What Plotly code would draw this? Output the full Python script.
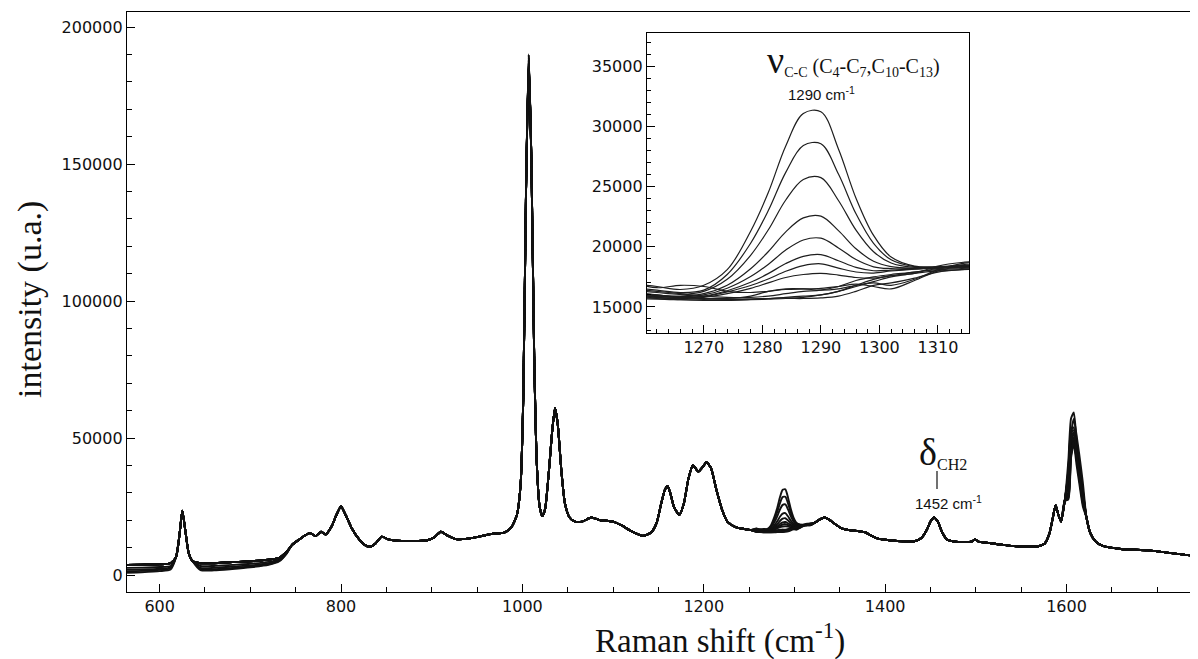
import plotly.graph_objects as go

# ---------------- data ----------------
base_x = [564, 580, 600, 612, 618, 622, 625, 628, 632, 636, 645, 660, 680, 700, 720, 732, 740, 746, 754, 762,
          766, 772, 778, 783, 790, 795, 800, 805, 812, 820, 827, 832, 838, 845, 852, 862, 880, 895, 903, 910,
          917, 927, 940, 955, 966, 980, 988, 994, 998, 1001, 1004, 1007, 1010, 1013, 1016, 1019, 1022, 1025,
          1029, 1033, 1036, 1039, 1043, 1047, 1052, 1058, 1066, 1076, 1086, 1100, 1110, 1120, 1133, 1142, 1148,
          1153, 1157, 1160, 1163, 1167, 1173, 1178, 1183, 1188, 1194, 1199, 1203, 1208, 1214, 1220, 1226, 1235,
          1245, 1252, 1322, 1328, 1333, 1338, 1345, 1352, 1360, 1370, 1378, 1385, 1392, 1405, 1420, 1432, 1440,
          1446, 1450, 1454, 1458, 1463, 1468, 1475, 1488, 1496, 1499, 1503, 1515, 1530, 1545, 1560, 1570, 1576,
          1581, 1585, 1588, 1591, 1594, 1598, 1602, 1605, 1608, 1611, 1614, 1618, 1622, 1626, 1632, 1640, 1660,
          1690, 1720, 1745]
base_y = [3700, 3800, 3900, 4300, 6500, 15000, 23500, 17000, 8000, 5200, 4300, 4300, 4700, 5000, 5600, 6300,
          8500, 11000, 13000, 14800, 15300, 14200, 15800, 14800, 18000, 22000, 25000, 22000, 17000, 13000, 10800,
          10300, 11500, 14000, 13000, 12500, 12400, 12700, 13800, 15800, 14500, 13100, 13300, 14200, 15000, 15500,
          17500, 22000, 33000, 65000, 140000, 189000, 150000, 80000, 40000, 25000, 21500, 24000, 37000, 53000,
          61000, 55000, 38000, 26000, 21000, 19500, 19500, 21000, 20000, 19500, 18000, 16000, 14300, 15500, 19000,
          26000, 31000, 32500, 30000, 25000, 22000, 26000, 35000, 40000, 37800, 39500, 41200, 39000, 31000, 24000,
          19500, 17500, 16800, 16400, 19000, 20300, 21000, 20300, 18500, 17000, 16400, 16000, 15600, 14300, 13300,
          12700, 12300, 12300, 13500, 16500, 19500, 21000, 19500, 15500, 13000, 12300, 12000, 12300, 13000, 12200,
          11700, 11000, 10500, 10400, 10600, 11500, 15000, 21000, 25500, 22000, 19500, 27000, 40000, 50000, 53000,
          45000, 37000, 29000, 21000, 15500, 12300, 10600, 9500, 9000, 7800, 6800]

# low-wavenumber region: four spectra lie below the others
low_x = [564, 580, 600, 612, 645, 660, 680, 700, 720, 732, 740]
low_y = {
    10: [2600, 2700, 2900, 3300, 3300, 3300, 3700, 4100, 4800, 5700, 8200],
    11: [1900, 2000, 2300, 2800, 2600, 2600, 3100, 3500, 4300, 5500, 8000],
    12: [1300, 1500, 1900, 2500, 2200, 2100, 2600, 3100, 3900, 5200, 7900],
    13: [800, 1000, 1400, 2000, 1800, 1700, 2200, 2800, 3700, 5000, 7800],
}

# top of the 1007 cm-1 band for each spectrum
peak1007_x = 1007
peak1007_y = [190000, 188000, 189000, 187000, 186000, 190000, 188500, 187500, 189500, 186500, 188000, 187000,
              189000, 188000]

# 1290 cm-1 region (also shown in the inset)
band_x = [1258, 1262, 1266, 1270, 1274, 1278, 1281, 1284, 1287, 1290, 1293, 1296, 1299, 1302, 1306, 1310, 1314, 1318]
band_y = [
    [16900, 16700, 16450, 16800, 18100, 21300, 24500, 28400, 31100, 31250, 28150, 24050, 20950, 19150, 18400, 18350, 18450, 18550],
    [16600, 16400, 16200, 16400, 17700, 20300, 23000, 26200, 28430, 28580, 26060, 22750, 20290, 18920, 18350, 18300, 18400, 18500],
    [16400, 16200, 16050, 16300, 17300, 19300, 21400, 23900, 25610, 25760, 23860, 21390, 19590, 18660, 18290, 18300, 18400, 18500],
    [16200, 16000, 15900, 16100, 16800, 18180, 19590, 21250, 22410, 22560, 21350, 19840, 18800, 18360, 18220, 18250, 18350, 18450],
    [16100, 15950, 15850, 16000, 16560, 17530, 18540, 19730, 20570, 20720, 19910, 18940, 18340, 18190, 18190, 18250, 18300, 18400],
    [16000, 15850, 15800, 15900, 16350, 17050, 17770, 18610, 19210, 19360, 18840, 18290, 18010, 18070, 18160, 18250, 18300, 18400],
    [15900, 15800, 15750, 15850, 16250, 16780, 17330, 17970, 18440, 18590, 18230, 17910, 17820, 17990, 18150, 18250, 18300, 18350],
    [15900, 15750, 15700, 15800, 16100, 16550, 17000, 17450, 17700, 17800, 17650, 17450, 17400, 17600, 17900, 18100, 18200, 18300],
    [17000, 16600, 16800, 16700, 16300, 16200, 16300, 16450, 16500, 16550, 16700, 16900, 16700, 16500, 17200, 18000, 18400, 18600],
    [16500, 16300, 16100, 15900, 15800, 15800, 15900, 16100, 16300, 16400, 16700, 17200, 17500, 17700, 17900, 18200, 18500, 18700],
    [16000, 15900, 15800, 15700, 15650, 15650, 15700, 15800, 15900, 16000, 16300, 16800, 17300, 17600, 17800, 18400, 18700, 18800],
    [15800, 15700, 15600, 15550, 15550, 15600, 15650, 15700, 15700, 15750, 15900, 16300, 16800, 17000, 17400, 17900, 18100, 18200],
    [16200, 16000, 15800, 15700, 15700, 15900, 16300, 16500, 16500, 16400, 16500, 16800, 17000, 16800, 17300, 18100, 18600, 18800],
    [15700, 15650, 15600, 15600, 15600, 15650, 15700, 15750, 15800, 16000, 16300, 16700, 17100, 17500, 17800, 18000, 18100, 18200],
]

# 1607 cm-1 band for each spectrum
p1600_x = [1602, 1605, 1608, 1611, 1614, 1618]
p1600_y = [
    [41650, 57100, 59300, 49800, 41500, 30600],
    [30200, 46800, 52000, 46800, 40500, 31100],
    [38500, 52800, 53900, 46100, 38400, 28400],
    [29000, 45000, 50000, 45000, 39000, 30000],
    [33600, 46100, 47000, 40400, 33600, 25000],
    [33100, 51300, 57000, 51200, 44200, 33800],
    [37100, 50900, 51900, 44500, 37000, 27400],
    [28400, 44100, 49000, 44100, 38300, 29500],
    [35700, 49000, 50000, 42800, 35700, 26500],
    [27600, 42800, 47500, 42800, 37200, 28700],
    [37800, 51800, 52900, 45300, 37700, 27900],
    [35400, 48500, 49500, 42400, 35300, 26200],
    [28100, 43700, 48500, 43700, 37900, 29200],
    [36800, 50400, 51500, 44100, 36700, 27200],
]

main_xticks = [600, 800, 1000, 1200, 1400, 1600]
main_yticks = [0, 50000, 100000, 150000, 200000]
inset_xticks = [1270, 1280, 1290, 1300, 1310]
inset_yticks = [15000, 20000, 25000, 30000, 35000]

# ---------------- figure ----------------
fig = go.Figure()

n_series = len(band_y)
for i in range(n_series):
    pts = dict(zip(base_x, base_y))
    if i in low_y:
        pts.update(zip(low_x, low_y[i]))
    pts[peak1007_x] = peak1007_y[i]
    pts.update(zip(band_x, band_y[i]))
    pts.update(zip(p1600_x, p1600_y[i]))
    xs = sorted(pts)
    ys = [pts[k] for k in xs]
    fig.add_trace(go.Scatter(x=xs, y=ys, mode="lines", xaxis="x", yaxis="y",
                             line=dict(color="#111111", width=1.9, shape="spline", smoothing=0.6),
                             showlegend=False, hoverinfo="skip"))

for i in range(n_series):
    fig.add_trace(go.Scatter(x=band_x, y=band_y[i], mode="lines", xaxis="x2", yaxis="y2",
                             line=dict(color="#1e1e1e", width=1.2, shape="spline", smoothing=1.0),
                             showlegend=False, hoverinfo="skip"))

tickfont = dict(family="DejaVu Sans, Arial, sans-serif", size=16, color="#111111")
axis_common = dict(showline=True, mirror=True, linecolor="black", linewidth=1.3, ticks="inside",
                   tickcolor="black", tickwidth=1.2, showgrid=False, zeroline=False, tickfont=tickfont)

# the page puts the figure 8 px from the top-left corner; positions below are reference pixels
OFF = 8
W, H = 1190, 651
L, R, T, B = 119, 0, 4, 67
pw, ph = W - L - R, H - T - B


def px(xp):
    return (xp - OFF - L) / pw


def py(yp):
    return (H - B - (yp - OFF)) / ph


fig.update_layout(
    width=W, height=H,
    margin=dict(l=L, r=R, t=T, b=B),
    paper_bgcolor="white", plot_bgcolor="white",
    xaxis=dict(domain=[0, 1], anchor="y", range=[564, 1745], tickvals=main_xticks,
               ticktext=[str(v) for v in main_xticks], ticklen=8,
               minor=dict(dtick=50, tick0=0, ticks="inside", ticklen=5, tickcolor="black", tickwidth=1),
               **axis_common),
    yaxis=dict(domain=[0, 1], anchor="x", range=[-6200, 205500], tickvals=main_yticks,
               ticktext=[str(v) for v in main_yticks], ticklen=8,
               minor=dict(dtick=10000, tick0=0, ticks="inside", ticklen=5, tickcolor="black", tickwidth=1),
               **axis_common),
    xaxis2=dict(domain=[px(647), px(969)], anchor="y2", range=[1260.3, 1315.3], tickvals=inset_xticks,
                ticktext=[str(v) for v in inset_xticks], ticklen=8,
                minor=dict(dtick=2, tick0=0, ticks="inside", ticklen=4, tickcolor="black", tickwidth=1),
                **axis_common),
    yaxis2=dict(domain=[py(333), py(33)], anchor="x2", range=[12830, 37800], tickvals=inset_yticks,
                ticktext=[str(v) for v in inset_yticks], ticklen=8,
                minor=dict(dtick=1000, tick0=0, ticks="inside", ticklen=4, tickcolor="black", tickwidth=1),
                **axis_common),
)

serif = "Liberation Serif, Times New Roman, serif"
sans = "Liberation Sans, Arial, sans-serif"
ann = [
    dict(text="Raman shift (cm<sup>-1</sup>)", x=px(720), y=py(638), font=dict(family=serif, size=33, color="#111")),
    dict(text="intensity (u.a.)", x=px(30), y=py(300), textangle=-90, font=dict(family=serif, size=34, color="#111")),
    dict(text="<span style='font-size:38px'>ν</span><sub>C-C</sub> (C<sub>4</sub>-C<sub>7</sub>,C<sub>10</sub>-C<sub>13</sub>)",
         x=px(853), y=py(60), font=dict(family=serif, size=20, color="#111")),
    dict(text="1290 cm<sup>-1</sup>", x=px(821), y=py(93), font=dict(family=sans, size=15, color="#111")),
    dict(text="<span style='font-size:38px'>δ</span><sub>CH2</sub>", x=px(943), y=py(452),
         font=dict(family=serif, size=23, color="#111")),
    dict(text="1452 cm<sup>-1</sup>", x=px(948), y=py(502), font=dict(family=sans, size=15, color="#111")),
]
for a in ann:
    fig.add_annotation(xref="paper", yref="paper", showarrow=False, xanchor="center", yanchor="middle", **a)

fig.add_shape(type="line", xref="paper", yref="paper", x0=px(937), x1=px(937), y0=py(489), y1=py(471),
              line=dict(color="#111", width=1.2))

fig.write_html("out.html")
